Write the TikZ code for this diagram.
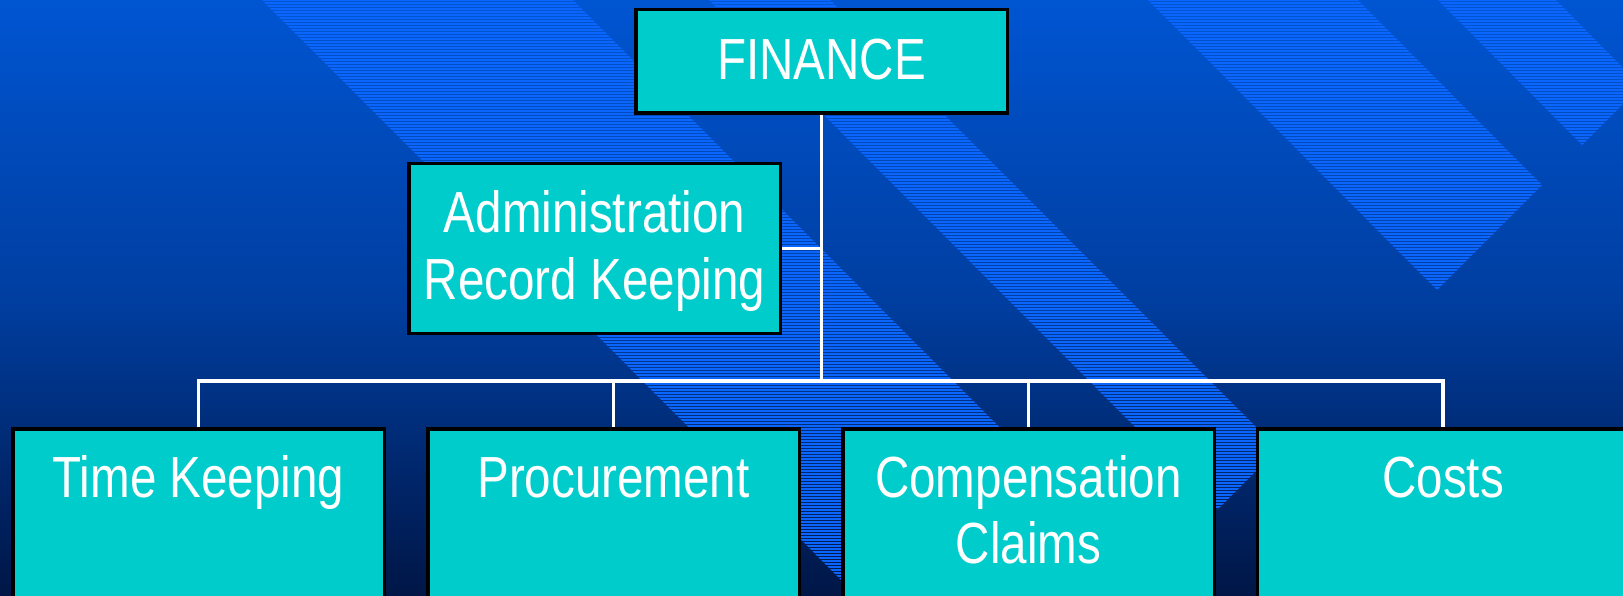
\documentclass[tikz,border=0pt]{standalone}
\usepackage{fontspec}
\setmainfont[FakeStretch=0.82]{Liberation Sans}
\definecolor{bgtop}{HTML}{0055D2}
\definecolor{bgmid}{HTML}{003EA0}
\definecolor{bgbot}{HTML}{001646}
\definecolor{stripecol}{HTML}{0A66FF}
\definecolor{boxfill}{HTML}{00CCCC}
\begin{document}
\begin{tikzpicture}[x=1pt,y=-1pt,
  orgbox/.style={draw=black, line width=3.5pt, fill=boxfill, inner sep=0pt, minimum width=371.5pt},
  lbl/.style={text=white, inner sep=0pt, align=center, anchor=north, font=\fontsize{58}{66}\selectfont},
  conn/.style={draw=white, line width=3.4pt}]
\useasboundingbox (0,0) rectangle (1623,596);
\clip (0,0) rectangle (1623,596);
% background
\shade[top color=bgtop, bottom color=bgmid] (0,0) rectangle (1623,300.5);
\shade[top color=bgmid, bottom color=bgbot] (0,300) rectangle (1623,596);
% striped diagonal bands
\foreach \a/\b in {261/572, 708/829, 1147/1357, 1437/1555} {
  \begin{scope}
    \clip (\a,-1) -- (\b,-1) -- ({(1727+\b)/2},{(1727-\b)/2}) -- ({(1727+\a)/2},{(1727-\a)/2}) -- cycle;
    \foreach \yy in {0,3,...,600} \draw[stripecol, line width=2pt] (0,\yy) -- (1623,\yy);
  \end{scope}
}
% boxes
\node[orgbox, minimum height=103.5pt] (fin) at (821.5,61.5) {};
\node[orgbox, minimum height=169.5pt] (adm) at (594.5,248.5) {};
\node[orgbox, minimum height=300pt, anchor=north] (tk) at (198.5,427) {};
\node[orgbox, minimum height=300pt, anchor=north] (pr) at (613.5,427) {};
\node[orgbox, minimum height=300pt, anchor=north] (cc) at (1028.5,427) {};
\node[orgbox, minimum height=300pt, anchor=north] (co) at (1443,427) {};
% connectors
\coordinate (bus) at (821.5,381);
\draw[conn] (fin.south) -- (bus);
\draw[conn] (adm.east) -- (adm.east -| bus);
\draw[conn] (tk.north) |- (bus) -| (co.north);
\draw[conn] (pr.north) -- (pr.north |- bus);
\draw[conn] (cc.north) -- (cc.north |- bus);
% texts
\node[lbl] (fint) at (821.5,32.8) {\strut FINANCE};
\node[lbl, font=\fontsize{58}{67}\selectfont] (admt) at (594.5,185.1) {\strut Administration\\\strut Record Keeping};
\node[lbl] (tkt) at (198.5,450.8) {\strut Time Keeping};
\node[lbl] (prt) at (613.5,450.8) {\strut Procurement};
\node[lbl] (cct) at (1028.5,450.8) {\strut Compensation\\\strut Claims};
\node[lbl] (cot) at (1443,450.8) {\strut Costs};
\end{tikzpicture}
\end{document}
